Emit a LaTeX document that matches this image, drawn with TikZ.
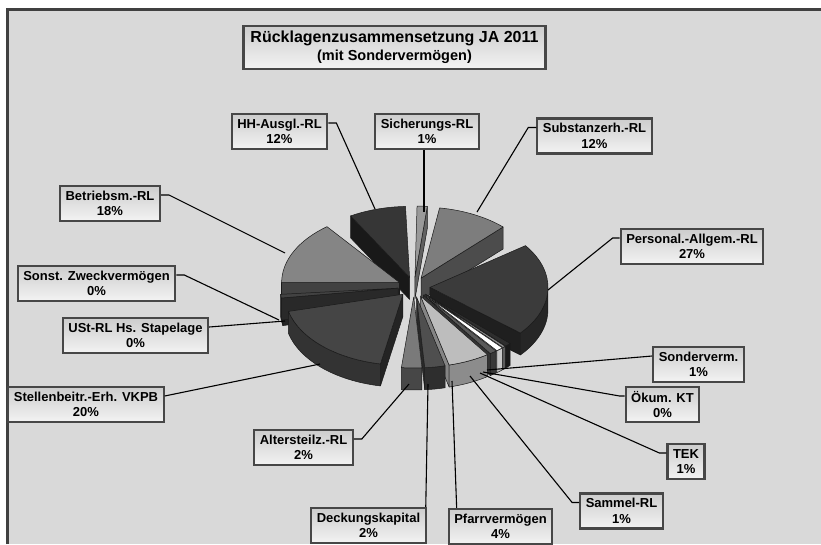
\documentclass[tikz,border=0pt]{standalone}
\usepackage{fontspec}
\setmainfont{Liberation Sans}
\definecolor{chartbg}{HTML}{D9D9D9}
\definecolor{framecol}{HTML}{404040}
\definecolor{boxline}{HTML}{474747}
\definecolor{boxtop}{HTML}{CDCDCD}
\definecolor{boxbot}{HTML}{F3F3F3}
\definecolor{pieedge}{HTML}{1A1A1A}
\tikzset{
  lbl/.style={draw=boxline, line width=2.2pt, top color=boxtop, bottom color=boxbot,
    align=center, font=\bfseries\fontsize{13}{15.5}\selectfont,
    inner xsep=5.5pt, inner ysep=2pt, minimum height=35pt},
  titlebox/.style={lbl, font=\bfseries\fontsize{16}{18}\selectfont, inner xsep=7pt, minimum height=43pt},
  leader/.style={draw=black, line width=1.1pt},
  face/.style={draw=pieedge, line width=0.5pt, line join=round},
}
\begin{document}
\begin{tikzpicture}[x=1pt,y=-1pt]
\useasboundingbox (0,0) rectangle (821,544);
\fill[white] (0,0) rectangle (821,544);
\fill[chartbg] (7.5,9.5) rectangle (821,544);
\draw[framecol,line width=3.5pt] (7.5,544) -- (7.5,9.5) -- (821,9.5);

% exploded 3d pie, back slices first
\foreach \a/\b/\ct/\cs/\cf in {
  240/268/black!79/black!90/black!88,
  271/276/black!40/black!62/black!60,
  279/314/black!51/black!70/black!68,
  180/232/black!48/black!74/black!72,
  168/171/black!78/black!86/black!86,
  172/175/black!74/black!84/black!84,
  -36/40/black!77/black!88/black!85,
  44/47/black!82/black!90/black!90,
  47/48.5/black!45/black!62/black!60,
  48.5/52/white/black!20/black!22,
  52/55.5/black!65/black!80/black!78,
  55.5/76/black!26/black!48/black!45,
  76/86/black!69/black!84/black!82,
  86/96/black!52/black!74/black!72,
  101/166/black!73/black!86/black!80}{
  \pgfmathsetmacro{\mang}{(\a+\b)/2}
  \pgfmathsetmacro{\ox}{414+16*cos(\mang)}
  \pgfmathsetmacro{\oy}{287+10*sin(\mang)}
  \pgfmathtruncatemacro{\va}{cos(\a)<0 ? 1 : 0}
  \pgfmathtruncatemacro{\vb}{cos(\b)>0 ? 1 : 0}
  \pgfmathsetmacro{\sa}{max(\a,0)}
  \pgfmathsetmacro{\ea}{min(\b,180)}
  \pgfmathtruncatemacro{\vf}{\ea>\sa ? 1 : 0}
  \ifnum\va=1
    \filldraw[face,fill=\cs] (\ox,\oy) -- ++({118*cos(\a)},{71*sin(\a)}) -- ++(0,22)
      -- ++({-118*cos(\a)},{-71*sin(\a)}) -- cycle;
  \fi
  \ifnum\vb=1
    \filldraw[face,fill=\cs] (\ox,\oy) -- ++({118*cos(\b)},{71*sin(\b)}) -- ++(0,22)
      -- ++({-118*cos(\b)},{-71*sin(\b)}) -- cycle;
  \fi
  \ifnum\vf=1
    \filldraw[face,fill=\cf] ({\ox+118*cos(\sa)},{\oy+71*sin(\sa)})
      arc[start angle=\sa,end angle=\ea,x radius=118,y radius=71] -- ++(0,22)
      arc[start angle=\ea,end angle=\sa,x radius=118,y radius=71] -- cycle;
  \fi
  \filldraw[face,fill=\ct] (\ox,\oy) -- ++({118*cos(\a)},{71*sin(\a)})
    arc[start angle=\a,end angle=\b,x radius=118,y radius=71] -- cycle;
}

% labels
\node[titlebox] (title) at (394.5,47.5) {Rücklagenzusammensetzung JA 2011\\{\fontsize{14.5}{16}\selectfont(mit Sondervermögen)}};
\node[lbl] (hh) at (279.5,131.5) {HH-Ausgl.-RL\\12\%};
\node[lbl] (sich) at (427,131.5) {Sicherungs-RL\\1\%};
\node[lbl] (subst) at (594.5,136) {Substanzerh.-RL\\12\%};
\node[lbl] (pers) at (692,246.5) {Personal.-Allgem.-RL\\27\%};
\node[lbl] (betr) at (110,203.5) {Betriebsm.-RL\\18\%};
\node[lbl] (sonst) at (96.5,283.5) {Sonst. Zweckvermögen\\0\%};
\node[lbl] (ust) at (135.5,335.5) {USt-RL Hs. Stapelage\\0\%};
\node[lbl] (stell) at (86,404.5) {Stellenbeitr.-Erh. VKPB\\20\%};
\node[lbl] (sonder) at (698.5,364.5) {Sonderverm.\\1\%};
\node[lbl] (oekum) at (662.5,404.5) {Ökum. KT\\0\%};
\node[lbl] (tek) at (686,461.5) {TEK\\1\%};
\node[lbl] (sammel) at (621.5,511) {Sammel-RL\\1\%};
\node[lbl] (pfarr) at (500.5,526.5) {Pfarrvermögen\\4\%};
\node[lbl] (deck) at (368.5,525.5) {Deckungskapital\\2\%};
\node[lbl] (alt) at (303.5,447.5) {Altersteilz.-RL\\2\%};

% leader ends on the pie
\coordinate (pHH) at (375,209);
\coordinate (pSich) at (424,212);
\coordinate (pSubst) at (477,212);
\coordinate (pPers) at (548,290);
\coordinate (pBetr) at (285,253);
\coordinate (pSonst) at (279,320);
\coordinate (pUSt) at (285,321);
\coordinate (pStell) at (320,364);
\coordinate (pAlt) at (409,384);
\coordinate (pDeck) at (428,384);
\coordinate (pPfarr) at (452,381);
\coordinate (pSammel) at (470,376);
\coordinate (pTEK) at (480,373);
\coordinate (pOekum) at (483,372);
\coordinate (pSonder) at (487,370);

\draw[leader] ([yshift=8.5pt]hh.east) -- ++(8,0) -- (pHH);
\draw[leader] (sich.south -| pSich) -- (pSich);
\draw[leader] ([yshift=8.5pt]subst.west) -- ++(-8,0) -- (pSubst);
\draw[leader] ([yshift=8.5pt]pers.west) -- ++(-7,0) -- (pPers);
\draw[leader] ([yshift=8.5pt]betr.east) -- ++(8,0) -- (pBetr);
\draw[leader] ([yshift=8.5pt]sonst.east) -- ++(8,0) -- (pSonst);
\draw[leader] ([yshift=8.5pt]ust.east) -- (pUSt);
\draw[leader] ([yshift=8.5pt]stell.east) -- (pStell);
\draw[leader] ([yshift=8.5pt]alt.east) -- ++(8,0) -- (pAlt);
\draw[leader] (pDeck) -- ([xshift=-1pt]deck.north east);
\draw[leader] (pPfarr) -- ([xshift=9pt]pfarr.north west);
\draw[leader] (pSammel) -- ([xshift=-7pt,yshift=8.5pt]sammel.west) -- ([yshift=8.5pt]sammel.west);
\draw[leader] (pTEK) -- ([xshift=-7pt,yshift=8.5pt]tek.west) -- ([yshift=8.5pt]tek.west);
\draw[leader] (pOekum) -- ([xshift=-5pt,yshift=8.5pt]oekum.west) -- ([yshift=8.5pt]oekum.west);
\draw[leader] (pSonder) -- ([yshift=8.5pt]sonder.west);
\end{tikzpicture}
\end{document}
